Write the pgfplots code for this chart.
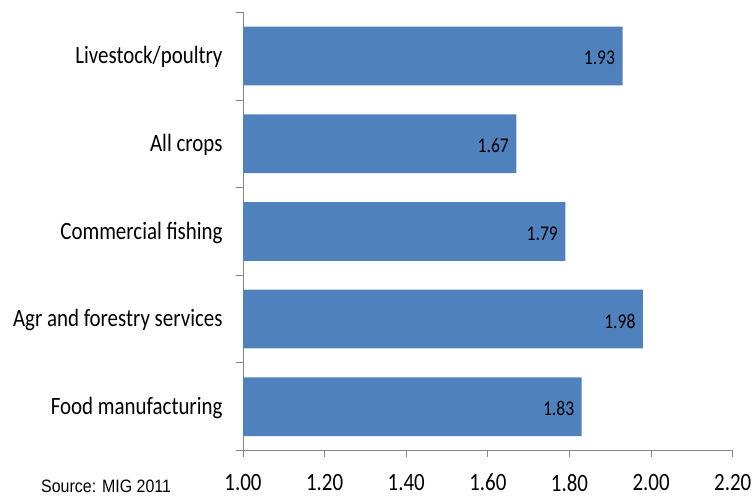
\documentclass[border=0pt]{standalone}
\usepackage{pgfplots}
\pgfplotsset{compat=1.18}
\usepackage{fontspec}
\setmainfont{Carlito}[FakeStretch=0.84]
\newfontfamily\srcfont{Liberation Sans}[FakeStretch=0.89]
\definecolor{barblue}{HTML}{4F81BD}
\definecolor{axgray}{HTML}{868686}
\begin{document}
\begin{tikzpicture}[x=1bp,y=1bp]
\path[use as bounding box] (0,0) rectangle (753,496);
\begin{axis}[
  at={(243bp,45.5bp)}, anchor=south west,
  scale only axis, width=489.7bp, height=438.2bp,
  xbar, bar width=0.67,
  xmin=1, xmax=2.2, ymin=-0.5, ymax=4.5,
  /pgf/number format/assume math mode=true,
  xtick={1,1.2,1.4,1.6,1.8,2,2.2},
  xticklabel style={yshift=-13bp, /pgf/number format/.cd, fixed, fixed zerofill, precision=2},
  ytick={-0.5,0.5,1.5,2.5,3.5,4.5},
  yticklabels={{},Food manufacturing,Agr and forestry services,Commercial fishing,All crops,Livestock/poultry},
  yticklabel style={yshift=-45bp, xshift=-10bp},
  axis x line*=bottom, axis y line*=left,
  axis line style={axgray, line width=0.75bp, -},
  tick align=outside,
  major tick length=7bp,
  tick style={axgray, line width=0.75bp},
  ticklabel style={font=\fontsize{25}{29}\selectfont, black},
  point meta=x,
  nodes near coords={\pgfmathprintnumber[fixed,fixed zerofill,precision=2]{\pgfplotspointmeta}},
  every node near coord/.append style={anchor=east, font=\fontsize{21}{25}\selectfont, black, xshift=-4bp, yshift=-2bp},
]
\addplot[fill=barblue, draw=none] coordinates {(1.83,0) (1.98,1) (1.79,2) (1.67,3) (1.93,4)};
\end{axis}
\node[anchor=base west, font=\srcfont\fontsize{18}{22}\selectfont, inner sep=0pt] at (41,3) {Source: MIG 2011};
\end{tikzpicture}
\end{document}
